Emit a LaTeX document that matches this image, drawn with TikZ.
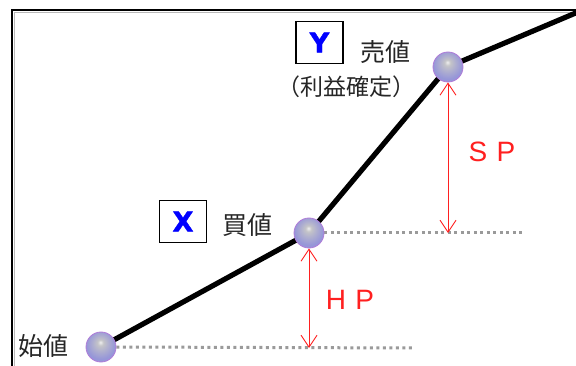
\documentclass[tikz,border=0pt]{standalone}
\usepackage{fontspec}
\setmainfont{Liberation Sans}
\newfontfamily\jp{Noto Sans CJK JP}
\newfontfamily\heavy[FakeBold=1.5]{DejaVu Sans}
\usetikzlibrary{arrows.meta,backgrounds}
\definecolor{lav}{HTML}{9696D8}
\definecolor{ballrim}{HTML}{B07CD8}
\definecolor{ballcore}{HTML}{C4C4C8}
\definecolor{ballhi}{HTML}{EEEEEE}
\definecolor{dotgray}{HTML}{9A9A9A}
\definecolor{arrred}{HTML}{FF2020}
\pgfdeclareradialshading{ballshade}{\pgfpoint{-1bp}{8bp}}{%
  color(0bp)=(ballhi); color(5bp)=(ballcore); color(13bp)=(ballcore!55!lav);
  color(24bp)=(lav); color(50bp)=(lav)}
\tikzset{
  ball/.style={circle, minimum size=30pt, inner sep=0pt, draw=ballrim, line width=0.8pt,
    shading=ballshade},
  mainline/.style={line width=5.2pt, black},
  dotline/.style={dotgray, line width=3pt, dash pattern=on 3pt off 3.5pt},
  redarrow/.style={arrred, line width=0.9pt, {Straight Barb[length=12pt,width=16pt]}-{Straight Barb[length=12pt,width=16pt]}},
  letterbox/.style={draw=black, line width=1.3pt, minimum width=47pt, minimum height=42pt, inner sep=0pt,
    text=blue, font=\heavy\fontsize{27}{27}\selectfont\bfseries},
  jplabel/.style={inner sep=0pt, font=\jp\fontsize{25}{25}\selectfont, text=black!85},
  redlabel/.style={inner sep=0pt, text=arrred, font=\fontsize{28}{28}\selectfont}
}
\begin{document}
\begin{tikzpicture}[x=1pt,y=-1pt]
\useasboundingbox (0,0) rectangle (576,366);
% balls
\node[ball] (s) at (101,347) {};
\node[ball] (b) at (309,233) {};
\node[ball] (t) at (448,67) {};
\coordinate (e) at (578,12);
\coordinate (d1) at (413,348);
\coordinate (d2) at (524,233);
\begin{scope}[on background layer]
  \fill[white] (0,0) rectangle (576,366);
  % frame
  \draw[gray!55, line width=1.5pt] (14.6,366) -- (14.6,12.4) -- (576,12.4);
  \draw[black, line width=2pt] (12,366) -- (12,10) -- (576,10);
  % dotted guides
  \draw[dotline] (s.east) -- (d1);
  \draw[dotline] (b.east) -- (d2);
  % price line
  \draw[mainline, line join=round] (s.center) -- (b.center) -- (t.center) -- (e);
\end{scope}
% arrows
\draw[redarrow] (b.south) -- (b.south |- d1);
\draw[redarrow] (t.south) -- (t.south |- b);
\node[redlabel] (hp) at (350,300) {H\,\,P};
\node[redlabel] (sp) at (492,152) {S\,\,P};
% labels
\node[letterbox] (xb) at (183,221.5) {X};
\node[jplabel] (buy) at (247,225) {買値};
\node[letterbox] (yb) at (319.5,42.5) {Y};
\node[jplabel] (sell) at (385,52) {売値};
\node[jplabel, font=\jp\fontsize{23}{23}\selectfont] (fix) at (346,87) {（利益確定）};
\node[jplabel] (start) at (43,346) {始値};
\end{tikzpicture}
\end{document}
